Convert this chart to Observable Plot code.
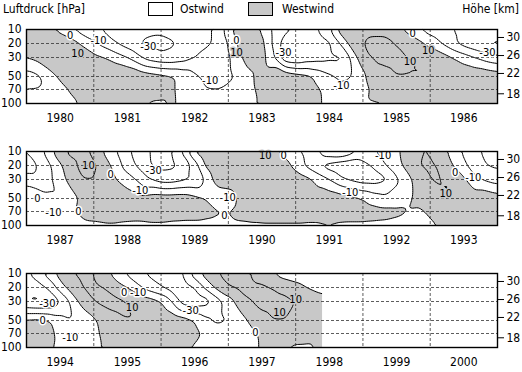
<!DOCTYPE html>
<html><head><meta charset="utf-8">
<script src="https://cdn.jsdelivr.net/npm/d3@7"></script>
<script src="https://cdn.jsdelivr.net/npm/@observablehq/plot@0.6"></script>
<style>
body{margin:0;background:#fff;font-family:"Liberation Sans Narrow","DejaVu Sans Condensed",sans-serif;overflow:hidden}
#wrap{position:relative;width:522px;height:372px;overflow:hidden}
.t{position:absolute;top:3px;font-size:12px;line-height:12px;color:#000}
.box{position:absolute;top:2px;width:23px;height:12px;border:1px solid #000}
.pn{position:absolute;left:0}
</style></head><body><div id="wrap">
<div class="t" style="left:3px">Luftdruck [hPa]</div>
<div class="box" style="left:148px;background:#fff"></div>
<div class="t" style="left:180px">Ostwind</div>
<div class="box" style="left:248px;background:#c8c8c8"></div>
<div class="t" style="left:282px">Westwind</div>
<div class="t" style="right:3px">Höhe [km]</div>
<div id="p0" class="pn" style="top:22px"></div>
<div id="p1" class="pn" style="top:144px"></div>
<div id="p2" class="pn" style="top:266px"></div>
</div>
<script>
// pressure levels (hPa) and height ticks (km) with their equivalent pressure on this chart's axis
const levels = [10, 20, 30, 50, 70, 100];
const kmLabels = [30, 26, 22, 18];
const kmPressure = [15.7, 28.6, 46.8, 79.2];
const gridPressure = [20, 30, 50, 70];
const panelStarts = [1980, 1987, 1994];
const stepYears = 1 / 6; // two-monthly values
const dataEnd = 1998.4;

// zonal wind (m/s), west positive; panel 1: 1980.0 .. 1987.0
const u1_10 = [8,6,3,-3,-10,-15,-18,-22,-25,-26,-27,-28,-28,-27,-25,-24,-22,-18,-5,8,6,-2,-12,-18,-20,-22,-20,-12,5,8,8,8,8,3,-3,-10,-15,-18,-20,-22,-24,-25,-25];
const u1_20 = [10,10,10,8,5,-2,-8,-14,-20,-25,-30,-32,-33,-31,-28,-25,-22,-18,-10,3,8,3,-12,-25,-28,-28,-25,-22,-10,5,10,12,12,10,8,3,-3,-10,-18,-24,-28,-31,-32];
const u1_30 = [0,3,8,10,10,8,3,0,-5,-10,-18,-25,-28,-28,-25,-20,-16,-15,-12,-2,6,4,-8,-28,-30,-26,-24,-22,-22,-8,8,11,11,11,10,10,8,5,0,-5,-10,-15,-18];
const u1_50 = [-15,-12,-5,2,5,8,10,10,10,10,8,5,3,1,-3,-8,-12,-15,-12,-8,-2,5,8,8,5,3,-2,-8,-12,-10,-3,8,9,10,10,10,10,10,10,8,8,8,6];
const u1_70 = [-10,-10,-8,-3,1,4,6,6,6,6,5,4,3,1,-3,-6,-10,-10,-8,-5,-2,3,5,5,4,3,1,-3,-8,-8,-5,3,5,5,5,5,5,5,4,4,3,3,2];
const u1_100 = [-5,-5,-5,-4,-2,1,2,2,2,2,1,-1,-1,1,-2,-4,-5,-5,-4,-3,-1,1,2,2,2,1,1,-2,-4,-3,-1,-1,-1,1,2,2,2,1,1,1,1,1,1];
// panel 2: 1987.0 .. 1994.0
const u2_10 = [-20,-15,-5,8,12,12,8,-2,-10,-18,-25,-30,-35,-30,-18,2,8,10,8,3,8,11,3,-3,-10,-12,-10,-2,1,-5,-10,-10,-8,-2,5,10,10,3,-3,-12,-18,-22,-25];
const u2_20 = [-25,-20,-12,-2,8,12,12,5,-5,-15,-22,-30,-33,-32,-28,-15,2,8,9,9,9,9,8,5,-3,-12,-20,-25,-28,-30,-25,-18,-10,-3,3,10,12,8,0,-8,-15,-20,-22];
const u2_30 = [-15,-18,-12,-5,5,10,10,8,0,-5,-12,-20,-25,-25,-22,-20,-8,6,8,9,9,9,8,8,7,3,-3,-10,-18,-22,-25,-25,-22,-12,-3,5,10,10,10,2,-8,-12,-15];
const u2_50 = [1,-2,-8,-10,-5,3,6,8,8,5,3,5,6,6,6,3,0,-8,-8,3,8,9,9,8,5,5,3,6,5,3,0,-5,-8,-6,-2,3,8,10,10,10,5,8,5];
const u2_70 = [-8,-10,-10,-8,-2,3,6,7,7,7,6,6,6,6,5,5,3,1,0,4,6,7,7,7,7,6,6,6,6,5,5,4,3,2,0,-2,2,6,8,8,8,8,8];
const u2_100 = [-2,1,-2,-4,-4,-3,-3,-2,-2,-3,-3,-2,-2,-3,-3,-3,-3,-3,-3,-2,-2,-2,-2,-2,-2,-2,-2,-1,-2,-2,-2,-2,-2,-3,-4,-4,-2,1,2,1,2,2,2];
// panel 3: 1994.0 .. 1998.5 (data end 1998.4)
const u3_10 = [-22,-15,-5,5,10,12,10,3,-5,-12,-18,-22,-22,-22,-20,-5,5,10,12,12,10,5,0,-5,-8,-10,-10,-10];
const u3_20 = [-28,-25,-18,-5,5,10,12,10,5,0,-8,-15,-20,-25,-25,-20,-8,3,10,12,12,12,10,8,5,0,-3,-3];
const u3_30 = [-30,-32,-30,-20,-8,5,10,12,12,10,8,5,0,-10,-25,-28,-25,-15,-5,5,10,12,12,12,10,8,5,3];
const u3_50 = [2,3,1,-5,-10,-8,-2,5,8,10,10,10,10,8,5,0,-8,-12,-10,-5,2,8,10,10,8,5,3,2];
const u3_70 = [5,5,3,-3,-10,-8,-3,3,6,7,7,7,7,6,5,3,-2,-5,-8,-8,-3,2,5,6,6,5,3,2];
const u3_100 = [3,3,1,-2,-4,-3,-2,1,2,1,2,2,2,2,1,-1,-3,-4,-4,-3,-2,1,2,1,-2,-2,1,1];

// contour labels: time, pressure, text
const labels1 = [[1980.65,14.3,"0"],[1980.76,27,"10"],[1981.07,17.9,"-10"],[1981.81,22.1,"-30"],[1982.73,56,"-10"],[1983.12,17.9,"0"],[1983.12,26.4,"10"],[1983.82,26.4,"-30"],[1984.68,63.8,"-10"],[1985.74,12.9,"0"],[1985.97,25,"10"],[1985.7,34.2,"10"],[1986.85,26.4,"-30"]];
const labels2 = [[1987.92,20,"10"],[1988.25,26.4,"0"],[1988.89,23.6,"-30"],[1988.69,41.6,"-10"],[1987.16,50,"0"],[1987.4,72,"-10"],[1987.77,70,"0"],[1989.99,49,"-10"],[1989.94,79,"0"],[1990.55,12.9,"10"],[1990.82,12.9,"0"],[1991.81,43.7,"-10"],[1992.3,12.9,"-10"],[1993.37,25,"0"],[1993.64,28.6,"-10"],[1993.23,44.2,"10"]];
const labels3 = [[1994.31,32,"-30"],[1994.24,50,"0"],[1994.65,79,"-10"],[1995.45,23.6,"0"],[1995.66,23.6,"-10"],[1995.57,36.3,"10"],[1996.44,39.5,"-30"],[1997.4,68.5,"0"],[1998.0,28.5,"10"],[1997.76,42,"10"]];

const grey = "#c8c8c8";
const kmMap = new Map(kmPressure.map((p, i) => [p, kmLabels[i]]));

function panel(start, arrs, labels, last) {
  const pts = [];
  arrs.forEach((arr, li) => arr.forEach((u, i) => pts.push({t: start + i * stepYears, p: levels[li], u})));
  const lab = labels.map(([t, p, s]) => ({t, p, s}));
  const yearEnds = d3.range(start + 1, start + 7);
  const yearMids = d3.range(start, start + 7).map(y => y + 0.5);
  const common = {x: "t", y: "p", value: "u", interpolate: "barycentric", blur: 1};
  const isE = d => d.s.startsWith("-") || d.s === "0";
  const marks = [
    Plot.contour(pts, {...common, thresholds: [0], fill: grey, stroke: "none"}),
    Plot.contour(pts, {...common, thresholds: [-40, -30, -20, -10, 0, 10, 20, 30], fill: "none", stroke: "black", strokeWidth: 1})
  ];
  if (last) marks.push(Plot.rect([dataEnd], {x1: d => d, x2: start + 7, y1: levels[0], y2: levels[levels.length - 1], fill: "white"}));
  marks.push(
    Plot.ruleX(yearEnds, {stroke: "#333", strokeDasharray: "3,2", strokeWidth: 0.8}),
    Plot.ruleY(gridPressure, {stroke: "#333", strokeDasharray: "3,2", strokeWidth: 0.8}),
    Plot.text(lab.filter(isE), {x: "t", y: "p", text: "s", fontSize: 11, fill: "black", stroke: "white", strokeWidth: 3}),
    Plot.text(lab.filter(d => !isE(d)), {x: "t", y: "p", text: "s", fontSize: 11, fill: "black", stroke: grey, strokeWidth: 3}),
    Plot.frame({stroke: "black", strokeWidth: 1.4}),
    Plot.axisX(yearMids, {tickSize: 0, tickPadding: 10, fontSize: 12, tickFormat: d => String(Math.floor(d)), label: null}),
    Plot.axisY(levels, {anchor: "left", tickSize: 0, tickPadding: 5, fontSize: 12, label: null}),
    Plot.axisY(kmPressure, {anchor: "right", tickSize: 6, tickPadding: 3, fontSize: 12, tickFormat: d => kmMap.get(d), label: null})
  );
  return Plot.plot({
    width: 522, height: 122, marginTop: 7, marginBottom: 41, marginLeft: 26, marginRight: 25,
    style: {fontFamily: '"Liberation Sans Narrow","DejaVu Sans Condensed",sans-serif', background: "white", overflow: "visible"},
    x: {domain: [start, start + 7]},
    y: {type: "linear", domain: levels, range: [7, 21, 35, 54, 67, 81]},
    marks
  });
}

document.getElementById("p0").append(panel(panelStarts[0], [u1_10, u1_20, u1_30, u1_50, u1_70, u1_100], labels1, false));
document.getElementById("p1").append(panel(panelStarts[1], [u2_10, u2_20, u2_30, u2_50, u2_70, u2_100], labels2, false));
document.getElementById("p2").append(panel(panelStarts[2], [u3_10, u3_20, u3_30, u3_50, u3_70, u3_100], labels3, true));
</script></body></html>
